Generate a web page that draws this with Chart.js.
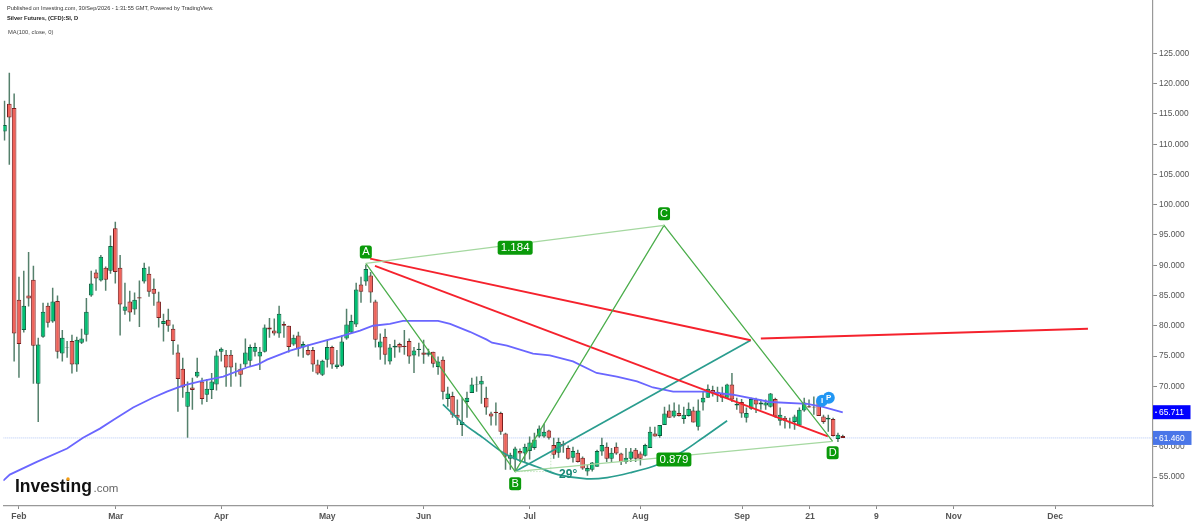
<!DOCTYPE html>
<html>
<head>
<meta charset="utf-8">
<title>Silver Futures</title>
<script src="https://cdn.jsdelivr.net/npm/chart.js@4"></script>
<style>
  html, body { margin: 0; padding: 0; background: #fff; }
  canvas { display: block; }
</style>
</head>
<body>
<canvas id="myChart" width="1200" height="525"></canvas>
<script>
// daily candles
var opens = [112.1,116.7,116.0,84.3,79.3,85.0,87.6,70.4,78.2,83.3,80.7,84.1,75.4,76.4,77.5,73.6,77.2,78.5,85.0,88.8,87.5,89.6,89.1,96.1,89.6,82.5,84.0,82.7,84.7,87.3,88.6,86.1,84.0,80.3,81.0,79.5,75.6,72.9,66.6,69.8,71.6,70.8,68.6,69.4,70.3,75.7,75.2,75.2,72.9,72.9,73.6,74.2,75.7,74.9,75.7,79.7,79.2,78.7,80.3,80.0,76.9,78.4,76.4,76.0,76.0,73.6,71.9,74.4,76.5,73.2,73.4,77.9,78.9,80.2,86.8,87.3,88.3,84.0,76.4,78.2,74.1,76.4,77.0,76.7,77.5,75.1,76.0,75.6,75.2,75.7,73.2,74.4,67.9,68.4,65.3,63.6,67.4,68.9,70.2,70.3,68.1,65.5,65.8,65.6,62.2,58.0,57.9,59.3,58.9,59.3,59.8,61.7,61.7,62.7,60.3,59.0,60.5,59.8,58.2,59.0,58.2,55.9,56.2,56.7,59.2,60.0,58.0,60.0,58.9,57.5,58.0,59.5,58.9,58.5,59.8,62.2,61.8,63.6,66.0,65.0,65.6,64.6,65.1,66.0,63.3,67.3,68.1,69.4,69.1,68.8,68.1,70.3,66.8,67.4,64.8,66.3,67.8,67.0,66.8,66.6,67.9,64.3,64.8,63.9,64.1,63.5,66.0,66.7,66.6,67.6,65.0,64.5,64.6,61.3,61.8];
var highs = [117.2,121.8,118.4,88.1,89.1,92.2,89.9,78.0,83.8,83.8,86.3,85.0,79.3,77.5,78.5,78.2,79.5,84.6,89.1,89.3,91.7,89.8,94.9,97.2,91.7,87.1,85.8,85.5,87.5,90.4,89.8,87.8,85.6,82.0,82.8,80.2,76.9,74.7,70.8,71.4,74.7,71.4,71.2,72.2,75.9,76.4,76.0,76.0,73.9,73.7,77.9,76.9,77.2,76.5,80.2,81.3,81.2,83.3,80.7,80.0,78.5,79.0,77.4,76.9,76.5,74.4,74.4,77.7,76.7,76.0,78.4,82.8,81.8,87.1,88.1,90.1,88.9,84.3,78.7,79.5,77.0,77.7,77.2,79.3,77.9,76.5,77.2,77.7,76.2,75.7,74.9,74.9,69.9,69.1,67.8,68.1,69.1,71.4,71.6,71.7,69.9,65.8,67.3,65.8,62.3,59.0,60.0,59.7,60.5,61.7,62.3,63.5,63.8,62.8,61.5,61.5,61.0,60.2,60.0,59.5,58.4,57.0,57.5,59.5,61.5,60.7,59.8,60.7,59.0,59.8,59.8,59.8,59.2,60.5,63.3,63.3,63.6,66.6,67.0,67.3,67.0,66.6,67.3,66.6,67.8,69.1,70.3,70.1,69.9,69.9,70.4,72.2,68.1,67.9,66.5,68.1,68.1,67.8,67.8,68.9,68.1,66.5,65.1,64.8,65.3,66.5,68.1,67.8,68.3,68.1,65.3,65.3,64.8,62.3,62.0];
var lows = [110.6,106.6,74.1,71.4,78.9,83.2,70.4,64.1,78.0,79.7,80.5,74.6,74.1,74.7,72.1,72.4,77.0,77.4,84.8,85.8,87.3,85.8,88.6,87.0,78.4,81.8,80.7,81.8,79.8,87.0,84.8,83.3,79.7,77.4,79.0,75.2,65.8,68.1,61.5,66.1,71.4,67.0,67.4,67.9,69.3,74.1,69.9,69.9,71.6,69.9,73.2,73.2,74.9,72.7,75.6,78.0,78.4,78.0,78.0,75.6,76.7,74.9,74.7,75.1,72.4,71.9,71.7,73.1,72.9,72.9,73.2,77.7,78.7,79.8,83.8,86.6,83.8,76.4,74.4,73.6,73.6,74.7,75.6,75.2,73.7,72.2,74.9,73.7,74.9,73.1,71.9,67.8,66.6,64.8,63.6,61.8,64.8,68.9,69.1,67.1,65.3,63.5,63.5,62.0,56.2,56.2,55.9,57.5,57.4,57.9,59.5,61.5,61.5,61.2,58.0,58.2,59.0,57.9,57.4,57.4,56.2,55.2,55.9,56.7,58.5,57.5,57.4,58.7,57.0,57.2,57.5,57.5,56.9,58.4,59.8,61.7,61.5,63.6,64.8,64.8,65.0,63.8,65.0,64.0,62.7,66.0,68.1,68.3,67.4,67.4,68.1,67.4,66.1,64.8,64.0,66.1,65.6,66.1,66.1,66.5,64.8,63.5,63.0,63.0,62.8,63.5,65.8,66.5,65.3,65.1,63.8,62.5,61.7,60.8,61.5];
var closes = [113.2,114.4,78.7,77.0,83.3,84.5,76.7,76.9,82.3,80.5,84.0,75.7,78.0,76.5,73.6,77.7,77.9,82.3,87.0,87.8,91.4,87.6,93.2,88.9,83.5,83.2,82.2,84.3,84.5,89.6,85.6,85.3,81.3,80.8,80.0,77.5,71.2,69.8,69.1,69.4,72.4,67.9,69.6,70.8,75.1,76.2,73.1,73.1,72.8,71.9,75.6,76.5,76.5,75.7,79.7,79.4,78.7,82.0,80.0,76.5,78.0,76.2,77.0,75.2,73.6,72.1,74.2,76.5,73.6,73.6,77.4,80.2,80.8,86.0,85.6,89.4,85.5,77.7,77.4,75.2,76.4,76.7,76.4,76.5,74.9,75.9,76.2,75.2,75.6,73.7,74.1,69.1,68.8,65.3,64.8,64.1,68.1,70.3,70.3,70.9,66.5,65.0,65.6,62.5,58.4,58.7,59.7,58.9,60.0,60.7,61.2,63.0,62.5,61.5,58.7,60.8,60.2,58.0,59.3,57.5,56.4,56.5,57.4,59.3,60.3,58.0,59.0,58.9,57.5,58.2,59.2,58.0,58.0,60.3,62.5,61.7,63.6,65.5,64.8,66.0,65.1,65.3,66.3,64.0,66.0,68.1,69.6,68.8,68.8,68.1,70.3,67.8,67.1,65.5,65.6,67.9,67.0,67.3,67.3,68.8,65.0,65.3,64.3,64.0,65.0,66.1,67.3,66.5,66.5,65.1,64.1,64.8,61.8,62.0,61.46];

// MA(100, close, 0)
var maBars = [-0.25,1.1,6.7,13.0,16.3,19.8,22.9,26.7,30.8,33.7,37.0,40.6,45.4,50.3,52.6,54.5,59.3,62.8,69.6,73.8,76.5,80.0,82.7,90.0,92.5,96.6,100.1,101.2,104.3,109.7,113.2,118.0,122.9,127.1,131.3,134.6,138.8,145.4,151.2,158.9,166.6,169.9,174.0];
var maValues = [54.4,55.4,57.5,59.7,61.5,63.0,64.6,66.5,68.1,69.1,70.1,70.8,71.6,73.1,73.6,74.4,75.9,76.7,78.2,79.2,80.0,80.3,80.8,80.8,80.3,79.0,77.7,77.2,76.7,75.4,75.1,74.1,72.2,71.6,70.8,69.8,69.1,69.1,68.6,67.4,67.1,66.6,65.7];

// XABCD pattern and the other drawings
var patternBars = [75.0, 106.0, 136.9, 171.9];
var patternValues = [90.3, 55.9, 96.6, 60.9];
var redOneBars = [75.9, 154.9];
var redOneValues = [91.1, 77.6];
var redTwoBars = [76.9, 170.9];
var redTwoValues = [89.9, 61.7];
var redThreeBars = [157.0, 224.9];
var redThreeValues = [77.9, 79.5];
var tealBars = [106.0, 154.9];
var tealValues = [55.9, 77.6];
var arcBars = [91.0,95.0,99.3,103.5,106.4,110.5,114.9,120.9,125.1,129.8,135.4,140.8,145.0,150.0];
var arcValues = [67.0,64.0,61.5,59.0,57.9,56.7,55.4,54.7,54.9,55.7,57.0,59.2,61.5,64.3];
var dottedBars = [106.0, 113.4, 113.4];
var dottedValues = [55.9, 55.9, 59.0];

// y and x axis labels
var priceTicks = [55,60,65,70,75,80,85,90,95,100,105,110,115,120,125];
var monthBars = [3,23.1,45,67,87,109,132,153.1,167.2,181,197,218.1];
var monthLabels = ['Feb','Mar','Apr','May','Jun','Jul','Aug','Sep','21','9','Nov','Dec'];

var lastPrice = 61.46;
var maLast = 65.711;

var badgeTexts = ['A','B','C','D','1.184','0.879'];
var badgeBars = [75.0,106.0,136.9,171.9,106.0,138.95];
var badgeValues = [92.2,53.9,98.5,59.0,92.9,57.9];

var bubbleTexts = ['I','P'];
var bubbleBars = [169.7,171.1];
var bubbleValues = [67.6,68.1];

var minBar = -0.25, maxBar = 238.4;
var minPrice = 50.21, maxPrice = 133.84;

function toPoints(xs, ys) {
  return xs.map(function (x, i) { return {x: x, y: ys[i]}; });
}

var wicks = [], bodies = [], bodyFill = [], bodyEdge = [];
for (var i = 0; i < opens.length; i++) {
  wicks.push({x: i, y: [lows[i], highs[i]]});
  bodies.push({x: i, y: [Math.min(opens[i], closes[i]), Math.max(opens[i], closes[i])]});
  var up = closes[i] >= opens[i];
  bodyFill.push(up ? '#00c073' : '#f0625a');
  bodyEdge.push(up ? '#0c5f3f' : '#7c1f1f');
}

function lineSet(xs, ys, color, width, extra) {
  return Object.assign({
    type: 'line',
    data: toPoints(xs, ys),
    borderColor: color,
    borderWidth: width,
    pointRadius: 0,
    fill: false,
    order: 1
  }, extra || {});
}

function roundBox(ctx, x, y, w, h, r) {
  ctx.beginPath();
  ctx.roundRect(x, y, w, h, r);
  ctx.fill();
}

// price tags, badges, header text and logo
var overlays = {
  id: 'overlays',
  afterDraw: function (chart) {
    var ctx = chart.ctx, sx = chart.scales.x, sy = chart.scales.y;
    ctx.save();

    // price tags on the axis
    ctx.textBaseline = 'middle';
    ctx.textAlign = 'left';
    ctx.font = '8.4px "Liberation Sans"';
    [[maLast, '#0000ff', 37.5], [lastPrice, '#4a76e8', 38.5]].forEach(function (t) {
      var y = sy.getPixelForValue(t[0]);
      ctx.fillStyle = t[1];
      ctx.fillRect(1153, y - 7, t[2], 14);
      ctx.strokeStyle = '#fff';
      ctx.lineWidth = 1;
      ctx.beginPath();
      ctx.moveTo(1155, y);
      ctx.lineTo(1157, y);
      ctx.stroke();
      ctx.fillStyle = '#fff';
      ctx.fillText(t[0].toFixed(3), 1159, y + 0.5);
    });

    // pattern badges
    ctx.textAlign = 'center';
    badgeTexts.forEach(function (text, i) {
      var x = sx.getPixelForValue(badgeBars[i]);
      var y = sy.getPixelForValue(badgeValues[i]);
      var wide = text.length > 1;
      var w = wide ? 35 : 12, h = wide ? 14 : 13;
      ctx.fillStyle = '#0a9a0a';
      roundBox(ctx, x - w / 2, y - h / 2, w, h, 2.5);
      ctx.fillStyle = '#fff';
      ctx.font = (wide ? '11.5px' : '11px') + ' "Liberation Sans"';
      ctx.fillText(text, x, y + 0.5);
    });

    // angle text
    ctx.fillStyle = '#1c8a78';
    ctx.font = 'bold 12px "Liberation Sans"';
    ctx.fillText('29°', sx.getPixelForValue(117), sy.getPixelForValue(55.4));

    // I and P bubbles
    bubbleTexts.forEach(function (text, i) {
      var x = sx.getPixelForValue(bubbleBars[i]);
      var y = sy.getPixelForValue(bubbleValues[i]);
      ctx.fillStyle = '#2196f3';
      ctx.beginPath();
      ctx.arc(x, y, 6, 0, Math.PI * 2);
      ctx.fill();
      ctx.fillStyle = '#fff';
      ctx.font = 'bold 8px "Liberation Sans"';
      ctx.fillText(text, x, y + 0.5);
    });

    // header
    ctx.textAlign = 'left';
    ctx.fillStyle = '#333';
    ctx.font = '5.6px "Liberation Sans"';
    ctx.fillText('Published on Investing.com, 30/Sep/2026 - 1:31:55 GMT, Powered by TradingView.', 7, 8);
    ctx.fillStyle = '#222';
    ctx.font = 'bold 5.7px "Liberation Sans"';
    ctx.fillText('Silver Futures, (CFD):SI, D', 7, 18);
    ctx.fillStyle = '#444';
    ctx.font = '5.8px "Liberation Sans"';
    ctx.fillText('MA(100, close, 0)', 8, 32);

    // Investing.com logo
    ctx.textBaseline = 'alphabetic';
    ctx.fillStyle = '#111';
    ctx.font = 'bold 17.5px "Liberation Sans"';
    ctx.fillText('Investing', 15, 492);
    ctx.fillStyle = '#666';
    ctx.font = '11.5px "Liberation Sans"';
    ctx.fillText('.com', 93.5, 492);
    ctx.fillStyle = '#f39c12';
    ctx.beginPath();
    ctx.arc(68, 479, 1.7, 0, Math.PI * 2);
    ctx.fill();

    ctx.restore();
  }
};

var ctx = document.getElementById('myChart').getContext('2d');
var myChart = new Chart(ctx, {
  data: {
    datasets: [
      lineSet([minBar, maxBar], [lastPrice, lastPrice], '#b4c6f4', 1, {borderDash: [1, 1], order: 5}),
      {
        type: 'bar',
        data: wicks,
        backgroundColor: '#55806c',
        barThickness: 1.5,
        grouped: false,
        inflateAmount: 0,
        order: 4
      },
      {
        type: 'bar',
        data: bodies,
        backgroundColor: bodyFill,
        borderColor: bodyEdge,
        borderWidth: 1,
        borderSkipped: false,
        barThickness: 4.6,
        grouped: false,
        inflateAmount: 0,
        order: 3
      },
      lineSet(maBars, maValues, '#6a66ff', 1.8, {order: 2}),
      lineSet([patternBars[0], patternBars[2]], [patternValues[0], patternValues[2]], '#a5d8a0', 1.2),
      lineSet([patternBars[1], patternBars[3]], [patternValues[1], patternValues[3]], '#a5d8a0', 1.2),
      lineSet(patternBars, patternValues, '#4cae4c', 1.3),
      lineSet(redOneBars, redOneValues, '#f5222d', 1.9),
      lineSet(redTwoBars, redTwoValues, '#f5222d', 1.9),
      lineSet(redThreeBars, redThreeValues, '#f5222d', 1.9),
      lineSet(tealBars, tealValues, '#2a9d8f', 1.7),
      lineSet(arcBars, arcValues, '#2a9d8f', 1.7, {tension: 0.3}),
      lineSet(dottedBars, dottedValues, '#b9e0b5', 0.8, {borderDash: [1.5, 1.5]})
    ]
  },
  plugins: [overlays],
  options: {
    responsive: false,
    animation: false,
    events: [],
    layout: {padding: {left: 3.3, top: 0, right: 0, bottom: 0}},
    plugins: {legend: {display: false}, tooltip: {enabled: false}},
    scales: {
      x: {
        type: 'linear',
        position: 'bottom',
        offset: false,
        min: minBar,
        max: maxBar,
        afterBuildTicks: function (axis) {
          axis.ticks = monthBars.map(function (v) { return {value: v}; });
        },
        afterFit: function (axis) {
          axis.height = 19;
          axis.paddingLeft = 0;
          axis.paddingRight = 0;
        },
        grid: {offset: false, drawOnChartArea: false, drawTicks: true, tickLength: 3, color: '#888'},
        border: {color: '#999', width: 1.2},
        ticks: {
          autoSkip: false,
          maxRotation: 0,
          padding: 2,
          color: '#555',
          font: {family: '"Liberation Sans"', size: 8.6, weight: 'bold'},
          callback: function (value) {
            return monthLabels[monthBars.indexOf(value)];
          }
        }
      },
      y: {
        position: 'right',
        min: minPrice,
        max: maxPrice,
        afterBuildTicks: function (axis) {
          axis.ticks = priceTicks.map(function (v) { return {value: v}; });
        },
        afterFit: function (axis) {
          axis.width = 47;
          axis.paddingTop = 0;
          axis.paddingBottom = 0;
        },
        grid: {drawOnChartArea: false, drawTicks: true, tickLength: 4, color: '#888'},
        border: {color: '#999', width: 1.2},
        ticks: {
          padding: 2,
          color: '#555',
          font: {family: '"Liberation Sans"', size: 8.4},
          callback: function (value) { return value.toFixed(3); }
        }
      }
    }
  }
});
</script>
</body>
</html>
